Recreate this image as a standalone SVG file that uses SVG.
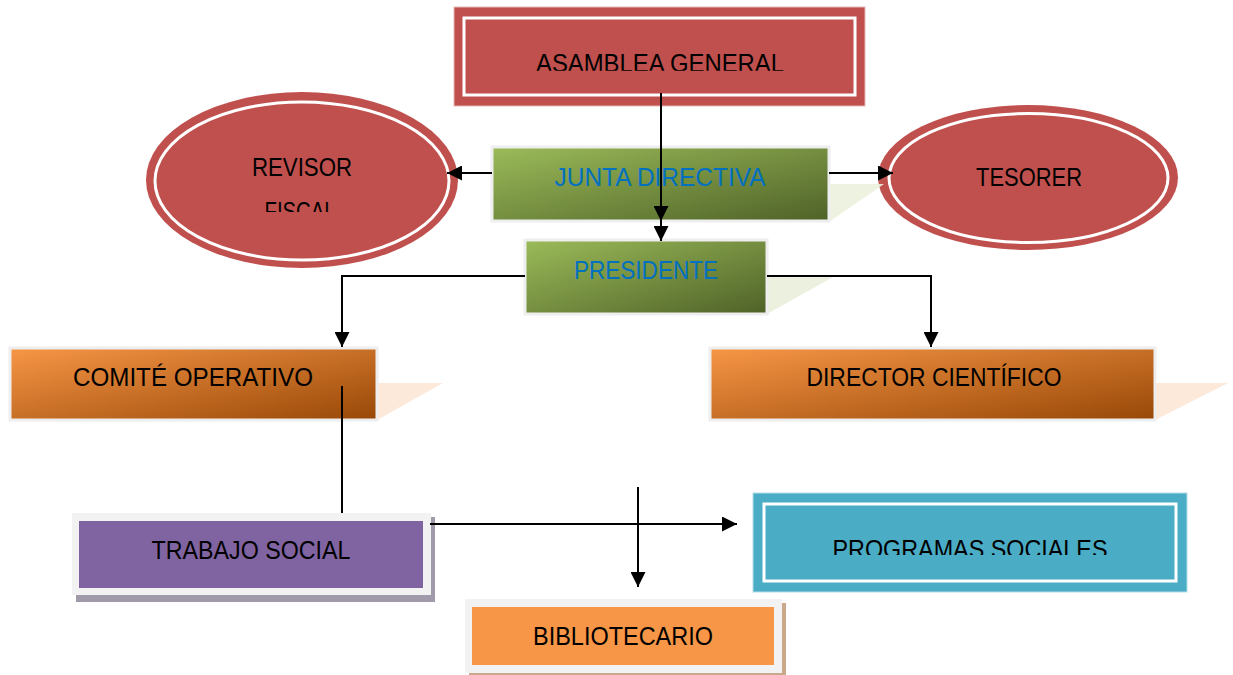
<svg xmlns="http://www.w3.org/2000/svg" width="1233" height="675" viewBox="0 0 1233 675">
<defs>
<style>
.t{font-family:"Liberation Sans",Arial,sans-serif;font-size:25px;fill:#000;text-anchor:middle}
.blue{fill:#0070C0}
.red{fill:#C0504D}
.ring{fill:none;stroke:#fff;stroke-width:3}
.frame{stroke:#EEEEEE;stroke-width:3}
.ln{fill:none;stroke:#000;stroke-width:2}
.arr{marker-end:url(#ah)}
</style>
<linearGradient id="gG" x1="0" y1="0" x2="1" y2="1">
<stop offset="0" stop-color="#9BBB59"/><stop offset="1" stop-color="#4F6228"/>
</linearGradient>
<linearGradient id="gO" x1="0" y1="0" x2="1" y2="1">
<stop offset="0" stop-color="#F79646"/><stop offset="1" stop-color="#984807"/>
</linearGradient>
<marker id="ah" markerUnits="userSpaceOnUse" markerWidth="15" markerHeight="15" refX="15" refY="7.5" orient="auto">
<path d="M0,0 L15,7.5 L0,15 z" fill="#000"/>
</marker>
<clipPath id="cA"><rect x="0" y="0" width="1233" height="70.7"/></clipPath>
<clipPath id="cF"><rect x="0" y="0" width="1233" height="212"/></clipPath>
<clipPath id="cP"><rect x="0" y="0" width="1233" height="555"/></clipPath>
</defs>
<rect width="1233" height="675" fill="#fff"/>

<g id="asamblea">
<rect class="red" x="454" y="7" width="411" height="99" stroke="#E6B9B8" stroke-width="1"/>
<rect class="ring" x="464" y="18" width="391" height="77"/>
<text class="t" x="660" y="71.5" textLength="248" lengthAdjust="spacingAndGlyphs" clip-path="url(#cA)">ASAMBLEA GENERAL</text>
</g>

<g id="revisor">
<ellipse class="red" cx="302" cy="180" rx="156" ry="88"/>
<ellipse class="ring" cx="302" cy="181" rx="147" ry="79"/>
<text class="t" x="302" y="176" textLength="100" lengthAdjust="spacingAndGlyphs">REVISOR</text>
<text class="t" x="300" y="219.5" textLength="71" lengthAdjust="spacingAndGlyphs" clip-path="url(#cF)">FISCAL</text>
</g>

<g id="tesorer">
<ellipse class="red" cx="1028" cy="177.5" rx="150" ry="72.5"/>
<ellipse class="ring" cx="1028.5" cy="178" rx="139.5" ry="64.5"/>
<text class="t" x="1029" y="186" textLength="106" lengthAdjust="spacingAndGlyphs">TESORER</text>
</g>

<g id="junta">
<polygon points="829,184 884,184 829,222" fill="#EBF1DE" opacity="0.9"/>
<rect class="frame" x="492" y="147" width="337" height="74" fill="url(#gG)"/>
<text class="t blue" x="660" y="186" textLength="211" lengthAdjust="spacingAndGlyphs">JUNTA DIRECTIVA</text>
</g>

<g id="presidente">
<polygon points="767,277 833,277 767,314" fill="#EBF1DE"/>
<rect class="frame" x="525" y="240" width="242" height="74" fill="url(#gG)"/>
<text class="t blue" x="646" y="279" textLength="144" lengthAdjust="spacingAndGlyphs">PRESIDENTE</text>
</g>

<g id="comite">
<polygon points="377,383 443,383 377,420" fill="#FDE9D9"/>
<rect class="frame" x="10" y="348" width="367" height="72" fill="url(#gO)"/>
<text class="t" x="193" y="386" textLength="240" lengthAdjust="spacingAndGlyphs">COMITÉ OPERATIVO</text>
</g>

<g id="director">
<polygon points="1155,383 1228,383 1155,420" fill="#FDE9D9"/>
<rect class="frame" x="710" y="348" width="445" height="72" fill="url(#gO)"/>
<text class="t" x="934" y="386" textLength="255" lengthAdjust="spacingAndGlyphs">DIRECTOR CIENTÍFICO</text>
</g>

<g id="trabajo">
<rect x="76" y="517" width="359" height="85" fill="#A09AAB"/>
<rect x="72" y="513" width="359" height="82" fill="#F2F2F2"/>
<rect x="79" y="521" width="344" height="67" fill="#8064A2"/>
<text class="t" x="251" y="559" textLength="199" lengthAdjust="spacingAndGlyphs">TRABAJO SOCIAL</text>
</g>

<g id="bibliotecario">
<rect x="469" y="603" width="317" height="73" fill="#C9A98A"/>
<rect x="465" y="599" width="317" height="74" fill="#F2F2F2"/>
<rect x="472" y="607" width="302" height="58" fill="#F79646"/>
<text class="t" x="623" y="645" textLength="180" lengthAdjust="spacingAndGlyphs">BIBLIOTECARIO</text>
</g>

<g id="programas">
<rect x="753" y="493" width="434" height="99" fill="#4BACC6" stroke="#B6DDE8" stroke-width="1"/>
<rect class="ring" x="764" y="504" width="412" height="77"/>
<text class="t" x="970" y="558" textLength="275" lengthAdjust="spacingAndGlyphs" clip-path="url(#cP)">PROGRAMAS SOCIALES</text>
</g>

<g id="connectors">
<line class="ln arr" x1="661" y1="93" x2="661" y2="221"/>
<line class="ln arr" x1="661" y1="221" x2="661" y2="241"/>
<line class="ln arr" x1="492" y1="173" x2="447" y2="173"/>
<line class="ln arr" x1="829" y1="173" x2="893" y2="173"/>
<polyline class="ln arr" points="525,276 342,276 342,347"/>
<polyline class="ln arr" points="767,276 931,276 931,347"/>
<line class="ln" x1="342" y1="386" x2="342" y2="513"/>
<line class="ln arr" x1="430" y1="524" x2="737" y2="524"/>
<line class="ln arr" x1="638" y1="487" x2="638" y2="587"/>
</g>
</svg>
